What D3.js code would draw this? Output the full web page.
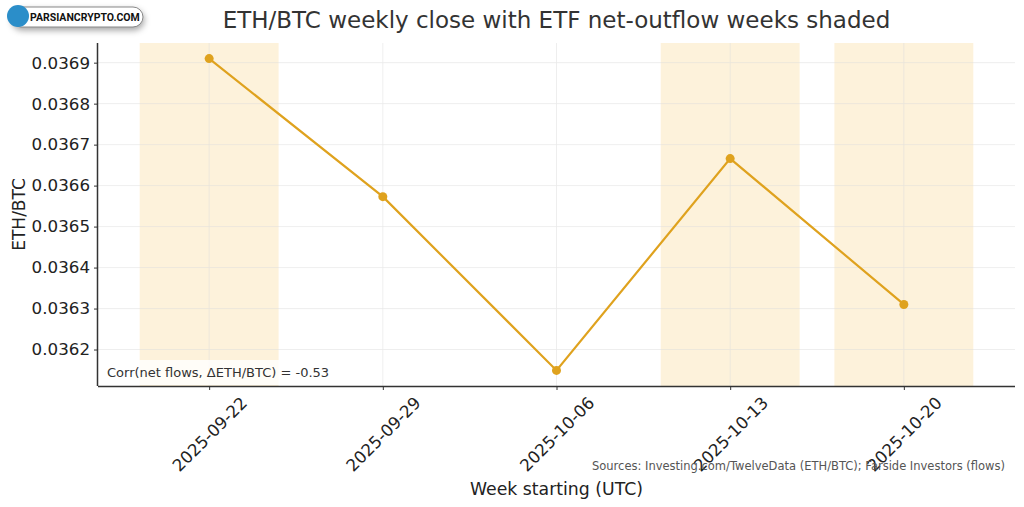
<!DOCTYPE html>
<html><head><meta charset="utf-8">
<script src="https://cdn.jsdelivr.net/npm/d3@7"></script>
<style>
html,body{margin:0;padding:0;background:#fff;}
svg{display:block;font-family:"DejaVu Sans",sans-serif;}
</style></head>
<body>
<svg id="chart" width="1024" height="507"></svg>
<script>
// ---- data ----
const weeks = ["2025-09-22","2025-09-29","2025-10-06","2025-10-13","2025-10-20"];
const ethBtc = [0.036910, 0.036573, 0.036149, 0.036666, 0.036310];
const outflowWeeks = ["2025-09-22","2025-10-13","2025-10-20"];
const yTicks = [0.0362,0.0363,0.0364,0.0365,0.0366,0.0367,0.0368,0.0369];
const titleText = "ETH/BTC weekly close with ETF net-outflow weeks shaded";
const corrText = "Corr(net flows, \u0394ETH/BTC) = -0.53";
const sourcesText = "Sources: Investing.com/TwelveData (ETH/BTC); Farside Investors (flows)";

const svg = d3.select("#chart");
const m = {left:98, right:1015, top:43, bottom:386};

svg.append("rect").attr("width",1024).attr("height",507).attr("fill","#fff");

const idx = weeks.map((d,i)=>i);
const x = d3.scaleLinear().domain([-0.64, 4.64]).range([m.left, m.right]);
const y = d3.scaleLinear().domain([0.036111, 0.036948]).range([m.bottom, m.top]);

// shaded spans
svg.append("g").selectAll("rect").data(outflowWeeks).join("rect")
  .attr("x", d => x(weeks.indexOf(d) - 0.4))
  .attr("width", d => x(weeks.indexOf(d) + 0.4) - x(weeks.indexOf(d) - 0.4))
  .attr("y", m.top).attr("height", m.bottom - m.top)
  .attr("fill", "#f5b53a").attr("opacity", 0.18);

// grid
const grid = svg.append("g").attr("stroke","#dcdcdc").attr("stroke-width",0.8).attr("opacity",0.6);
grid.selectAll(".gy").data(yTicks).join("line")
  .attr("x1", m.left).attr("x2", m.right)
  .attr("y1", d=>y(d)).attr("y2", d=>y(d));
grid.selectAll(".gx").data(idx).join("line")
  .attr("y1", m.top).attr("y2", m.bottom)
  .attr("x1", d=>x(d)).attr("x2", d=>x(d));

// line
const col = "#dfa21e";
svg.append("path").datum(idx)
  .attr("fill","none").attr("stroke",col).attr("stroke-width",2.2)
  .attr("d", d3.line().x(i=>x(i)).y(i=>y(ethBtc[i])));
svg.append("g").selectAll("circle").data(idx).join("circle")
  .attr("cx", i=>x(i)).attr("cy", i=>y(ethBtc[i])).attr("r",4.5).attr("fill",col);

// annotation box
const ann = svg.append("g");
ann.append("rect").attr("x", m.left+2).attr("y", 360).attr("width", 236).attr("height", 25)
  .attr("fill","#fff").attr("opacity",0.8);
ann.append("text").attr("x", 107).attr("y", 377).attr("font-size", 13).attr("fill","#333")
  .text(corrText);

// axes
const yAxis = d3.axisLeft(y).tickValues(yTicks).tickFormat(d3.format(".4f")).tickSize(4).tickPadding(4);
const gy = svg.append("g").attr("transform",`translate(${m.left},0)`).call(yAxis);
gy.select(".domain").attr("d", `M-0.5,${m.top}V${m.bottom}`);
const xAxis = d3.axisBottom(x).tickValues(idx).tickFormat(i=>weeks[i]).tickSize(4);
const gx = svg.append("g").attr("transform",`translate(0,${m.bottom})`).call(xAxis);
gx.select(".domain").attr("d", `M${m.left},0.5H${m.right}`);
[gx, gy].forEach(g=>{
  g.select(".domain").attr("stroke","#333").attr("stroke-width",1.5);
  g.selectAll(".tick line").attr("stroke","#333").attr("stroke-width",1);
  g.selectAll(".tick text").attr("fill","#222").attr("font-size",16.7).attr("font-family","DejaVu Sans");
});
gx.selectAll(".tick text")
  .attr("text-anchor","middle").attr("dominant-baseline","central").attr("dy",null)
  .attr("y",48).attr("transform","rotate(-45,0,48)");

// titles
svg.append("text").attr("x",(m.left+m.right)/2).attr("y",28).attr("text-anchor","middle")
  .attr("font-size",23).attr("fill","#333").text(titleText);
svg.append("text").attr("x",(m.left+m.right)/2).attr("y",495).attr("text-anchor","middle")
  .attr("font-size",17.3).attr("fill","#222").text("Week starting (UTC)");
svg.append("text").attr("transform",`translate(25,${(m.top+m.bottom)/2}) rotate(-90)`)
  .attr("text-anchor","middle").attr("font-size",17).attr("fill","#222").text("ETH/BTC");
svg.append("text").attr("x",1005).attr("y",470).attr("text-anchor","end")
  .attr("font-size",11.5).attr("fill","#555").text(sourcesText);

// logo
const logo = svg.append("g");
logo.append("rect").attr("x",11).attr("y",7).attr("width",132).attr("height",20).attr("rx",10)
  .attr("fill","#fff").attr("stroke","#888").attr("stroke-width",1)
  .style("filter","drop-shadow(1px 3px 3px rgba(0,0,0,0.35))");
logo.append("circle").attr("cx",18).attr("cy",16).attr("r",11).attr("fill","#2b8ec9");
logo.append("text").attr("x",30).attr("y",20.5).attr("font-size",10.5).attr("font-weight","bold")
  .attr("font-family","Roboto, DejaVu Sans").attr("fill","#111").text("PARSIANCRYPTO.COM");
</script>
</body></html>
